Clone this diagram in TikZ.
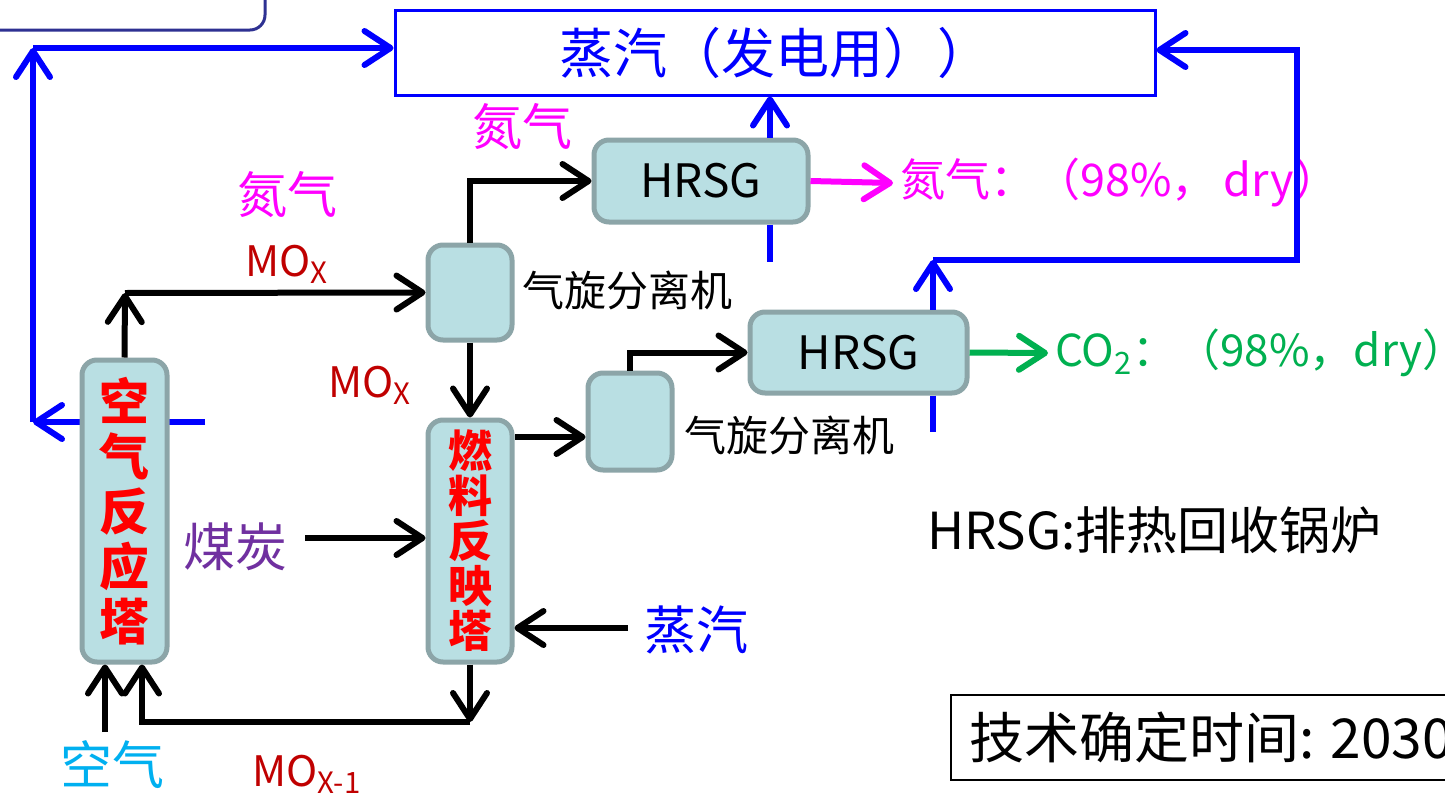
\documentclass[tikz,border=0pt]{standalone}
\usepackage{fontspec}
\setmainfont{Noto Sans CJK SC}
\usetikzlibrary{arrows.meta}
\definecolor{boxfill}{HTML}{B9DFE3}
\definecolor{boxdraw}{HTML}{8CA5A8}
\definecolor{dred}{HTML}{C00000}
\definecolor{mag}{HTML}{FF00FF}
\definecolor{purp}{HTML}{7030A0}
\definecolor{blu}{HTML}{0000FF}
\definecolor{cyanc}{HTML}{00B0F0}
\definecolor{grn}{HTML}{00B050}
\definecolor{navyb}{HTML}{2E3192}
\tikzset{
  unit/.style={draw=boxdraw, fill=boxfill, line width=2.5pt, rounded corners=7.5pt, inner sep=0pt},
  ln/.style={line width=3pt},
  arr/.style={-{Straight Barb[length=13pt,width=17pt,round]}},
  fs/.style={font=\fontsize{#1}{#1}\selectfont},
}
\begin{document}
\begin{tikzpicture}[x=0.5pt,y=-0.5pt]
\useasboundingbox (0,0) rectangle (1445,803);
\fill[white] (0,0) rectangle (1445,803);

% top-left partial box
\draw[navyb, line width=1.5pt, rounded corners=7.5pt] (-30,-30) rectangle (265,30);

% steam box
\node[draw=blu, line width=1.5pt, minimum width=380pt, minimum height=42.5pt, inner sep=0pt, text=blu, fs=27pt] (steam) at (775,52.5) {蒸汽（发电用））};

% coordinates
\coordinate (bl1) at (205,422);
\coordinate (bl2) at (33,422);
\coordinate (bl3) at (33,48);
\coordinate (h1x) at (770,0);
\coordinate (h1s) at (770,262);
\coordinate (h2x) at (933,0);
\coordinate (h2t) at (933,260);
\coordinate (h2b) at (933,432);
\coordinate (rc) at (1297,260);
\coordinate (rt) at (1297,50);
\coordinate (c1) at (125,293);
\coordinate (c2) at (585,437);
\coordinate (coals) at (305,538);
\coordinate (stms) at (628,628);
\coordinate (b1) at (470,722);
\coordinate (b2) at (142,722);
\coordinate (ain) at (105,732);

% blue lines from air reactor
\draw[blu, ln, arr] (bl1) -- (bl2);
\draw[blu, ln, arr] (bl2) -- (bl3);

% units
\node[unit, minimum width=42.5pt, minimum height=151pt, align=center, text=red, font=\bfseries\fontsize{25pt}{27.5pt}\selectfont] (air) at (124.5,511) {空\\气\\反\\应\\塔};
\node[unit, minimum width=42pt, minimum height=121pt, align=center, text=red, font=\bfseries\fontsize{22pt}{22.5pt}\selectfont] (fuel) at (470,541) {燃\\料\\反\\映\\塔};
\node[unit, minimum width=42pt, minimum height=47.5pt] (cyc1) at (470,292.5) {};
\node[unit, minimum width=42pt, minimum height=48.5pt] (cyc2) at (630,421.5) {};
\node[unit, minimum width=107pt, minimum height=41pt, fs=23pt] (hrsg1) at (701,181) {HRSG};
\node[unit, minimum width=108.5pt, minimum height=40.5pt, fs=23pt] (hrsg2) at (858.5,352.5) {HRSG};

\draw[blu, ln, arr] (bl3) -- (steam.west |- bl3);

% labels
\node[anchor=west, fs=21pt] (cl1) at (515,290) {气旋分离机};
\node[anchor=west, fs=21pt] (cl2) at (677,435) {气旋分离机};
\node[text=dred, fs=21pt] (mox1) at (287,264) {MO\textsubscript{X}};
\node[text=dred, fs=21pt] (mox2) at (370,385) {MO\textsubscript{X}};
\node[text=dred, fs=21pt] (mox3) at (307,774) {MO\textsubscript{X-1}};
\node[text=mag, fs=25pt] (n2a) at (287,195) {氮气};
\node[text=mag, fs=25pt] (n2b) at (522,127) {氮气};
\node[text=purp, fs=26pt] (coal) at (235,547) {煤炭};
\node[text=blu, fs=26pt] (stm) at (696,630) {蒸汽};
\node[text=cyanc, fs=26pt] (airin) at (112,765) {空气};
\node[anchor=west, text=mag, fs=22.5pt] (n2out) at (893,183) {氮气：（98\%，\,dry）};
\node[anchor=west, text=grn, fs=22pt] (co2out) at (1048,353) {CO\textsubscript{2}：（98\%，dry）};
\node[anchor=west, fs=25.5pt] (legend) at (920,530) {HRSG:排热回收锅炉};
\node[anchor=west, draw=black, line width=1pt, minimum height=42.5pt, inner xsep=9pt, fs=27.5pt] (tech) at (950,737.5) {技术确定时间: 2030};

% black flows
\draw[ln, arr] (air.north) -- (c1);
\draw[ln, arr] (c1) -- (cyc1.west);
\draw[ln, arr] (cyc1.south) -- (fuel.north);
\draw[ln, arr] (cyc1.north) |- (hrsg1.west);
\draw[ln, arr] (fuel.east |- c2) -- (cyc2.west |- c2);
\draw[ln, arr] (cyc2.north) |- (hrsg2.west);
\draw[ln, arr] (coals) -- (fuel.west |- coals);
\draw[ln, arr] (stms) -- (fuel.east |- stms);
\draw[ln, arr] (fuel.south) -- (b1);
\draw[ln, arr] (b1) -- (b2) -- (air.south -| b2);
\draw[ln, arr] (ain) -- (air.south -| ain);

% coloured outlets
\draw[mag, ln, arr] (hrsg1.east) -- (n2out.west);
\draw[grn, ln, arr] (hrsg2.east) -- (co2out.west);

% blue steam lines
\draw[blu, ln, arr] (hrsg1.north -| h1x) -- (steam.south -| h1x);
\draw[blu, ln] (hrsg1.south -| h1x) -- (h1s);
\draw[blu, ln, arr] (hrsg2.north -| h2x) -- (h2t);
\draw[blu, ln] (hrsg2.south -| h2x) -- (h2b);
\draw[blu, ln, arr] (h2t) -- (rc) -- (rt) -- (steam.east |- rt);
\end{tikzpicture}
\end{document}
